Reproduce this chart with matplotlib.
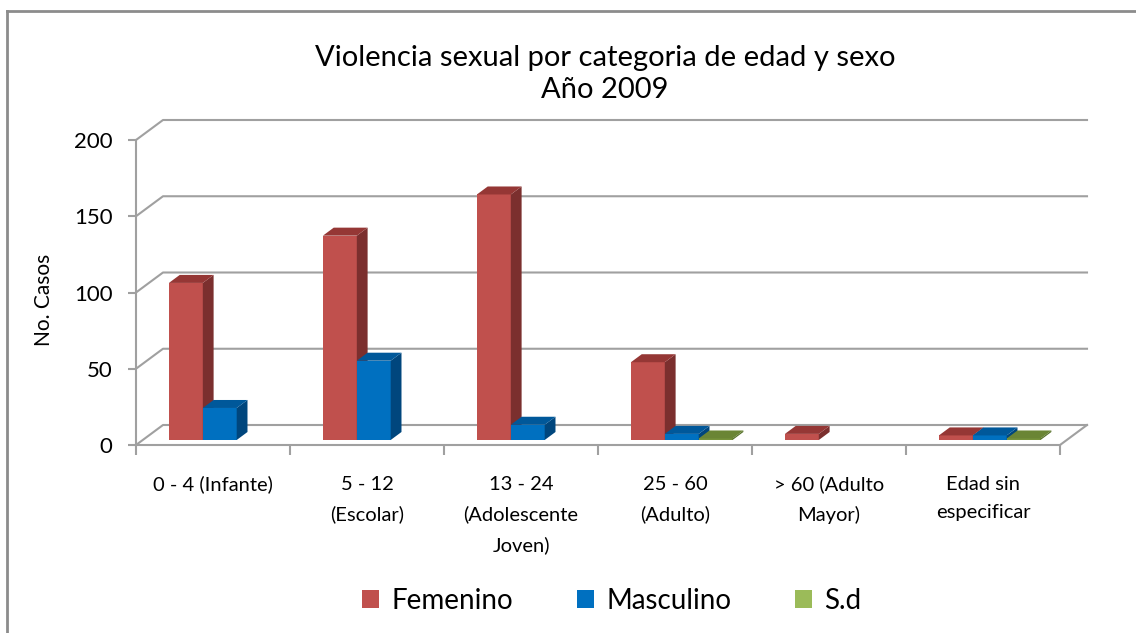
import numpy as np
import matplotlib.pyplot as plt
from matplotlib.patches import Polygon, Patch
from matplotlib.lines import Line2D

plt.rcParams['font.family'] = ['Lato', 'DejaVu Sans']

# datos
categorias = ['0 - 4 (Infante)', '5 - 12\n(Escolar)', '13 - 24\n(Adolescente\nJoven)',
              '25 - 60\n(Adulto)', '> 60 (Adulto\nMayor)', 'Edad sin\nespecificar']
series = ['Femenino', 'Masculino', 'S.d']
femenino = [103, 134, 161, 51, 4, 3]
masculino = [21, 52, 10, 4, 0, 3]
sin_dato = [0, 0, 0, 1, 0, 1]
yticks = [0, 50, 100, 150, 200]

# colores: frente, arriba, lado
col_frente = ['#C0504D', '#0070C0', '#77933C']
col_arriba = ['#953735', '#00589A', '#6A8535']
col_lado = ['#7B2F2E', '#00467D', '#55702A']
col_leyenda = ['#C0504D', '#0070C0', '#9BBB59']
gris = '#A0A0A0'

W, H = 1136, 633
fig = plt.figure(figsize=(W / 100, H / 100), dpi=100)

# ejes en pixeles
px_x, px_y = 154.0, 1.525
left, right, bottom, top = 136, 1092, 445, 110
ax = fig.add_axes([left / W, (H - bottom) / H, (right - left) / W, (bottom - top) / H])
ax.set_xlim(-0.5, -0.5 + (right - left) / px_x)
ax.set_ylim(0, (bottom - top) / px_y)

# profundidad
Dx, Dy = 27 / px_x, 20 / px_y
f0x, f0y = 0.25 * Dx, 0.25 * Dy
bx, by = 0.4 * Dx, 0.4 * Dy
w = 0.22

# pared del fondo y piso
for v in yticks:
    ax.plot([-0.5, -0.5 + Dx, 5.5 + Dx], [v, v + Dy, v + Dy], color=gris, lw=1.5,
            clip_on=False, zorder=1)
ax.plot([5.5, 5.5 + Dx], [0, Dy], color=gris, lw=1.5, clip_on=False, zorder=1)

datos = [femenino, masculino, sin_dato]
for i in range(len(categorias)):
    for k, vals in enumerate(datos):
        v = vals[i]
        if v == 0:
            continue
        z = 3 + k
        xl = i + (k - 1) * w - w / 2 + f0x
        xr = xl + w
        ax.bar(xl, v, width=w, bottom=f0y, align='edge', color=col_frente[k],
               zorder=z, linewidth=0)
        b, t = f0y, f0y + v
        ax.add_patch(Polygon([(xr, b), (xr + bx, b + by), (xr + bx, t + by), (xr, t)],
                             closed=True, facecolor=col_lado[k], lw=0, zorder=z))
        ax.add_patch(Polygon([(xl, t), (xl + bx, t + by), (xr + bx, t + by), (xr, t)],
                             closed=True, facecolor=col_arriba[k], lw=0, zorder=z))

for s in ['top', 'right']:
    ax.spines[s].set_visible(False)
ax.spines['left'].set_bounds(0, 200)
ax.spines['bottom'].set_bounds(-0.5, 5.5)
for s in ['left', 'bottom']:
    ax.spines[s].set_color(gris)
    ax.spines[s].set_linewidth(1.5)
    ax.spines[s].set_zorder(2)

ax.set_yticks(yticks)
ax.tick_params(axis='y', length=6, width=1.5, color=gris, pad=11, labelsize=16)
ax.set_xticks(np.arange(-0.5, 6, 1))
ax.set_xticklabels([])
ax.tick_params(axis='x', which='major', length=7, width=1.5, color=gris)
ax.set_xticks(range(len(categorias)), minor=True)
ax.set_xticklabels(categorias, minor=True, fontsize=14.5, linespacing=1.85)
ax.tick_params(axis='x', which='minor', length=0, pad=22)
ax.patch.set_visible(False)

ax.set_ylabel('No. Casos', fontsize=15)
ax.yaxis.set_label_coords((54 - left) / (right - left), (bottom - 300) / (bottom - top))

fig.text(605 / W, 1 - 74 / H, 'Violencia sexual por categoria de edad y sexo\nAño 2009',
         ha='center', va='center', fontsize=21, linespacing=1.3)

handles = [Patch(facecolor=c, edgecolor='none') for c in col_leyenda]
fig.legend(handles, series, loc='center', bbox_to_anchor=(612 / W, 1 - 601 / H), ncol=3,
           frameon=False, fontsize=20, handlelength=0.6, handleheight=0.6,
           handletextpad=0.45, columnspacing=2.3)

# borde del grafico
fig.add_artist(Line2D([7 / W, 7 / W], [0, 1 - 11 / H], color='#8C8C8C', lw=2))
fig.add_artist(Line2D([7 / W, 1], [1 - 11 / H, 1 - 11 / H], color='#8C8C8C', lw=2))

fig.savefig('out.png', dpi=100)
